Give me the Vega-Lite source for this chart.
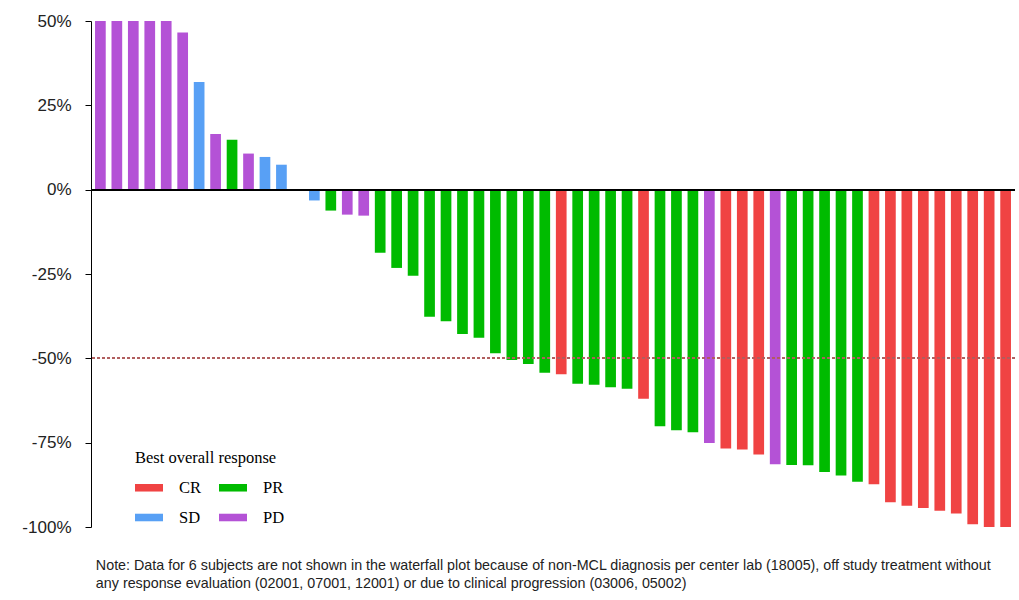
{
  "$schema": "https://vega.github.io/schema/vega-lite/v6.json",
  "autosize": {"type": "none"},
  "padding": {"left": 91, "top": 21, "right": 4, "bottom": 73},
  "width": 924,
  "height": 506,
  "background": "white",
  "config": {"view": {"stroke": null}},
  "title": {
    "text": ["Note: Data for 6 subjects are not shown in the waterfall plot because of non-MCL diagnosis per center lab (18005), off study treatment without", "any response evaluation (02001, 07001, 12001) or due to clinical progression (03006, 05002)"],
    "orient": "bottom",
    "anchor": "start",
    "font": "Liberation Sans",
    "fontSize": 14.3,
    "fontWeight": "normal",
    "color": "#222222",
    "lineHeight": 17.5,
    "offset": 24,
    "dx": 74
  },
  "data": {"values": [
    {"id": 1, "bor": "PD", "value": 50},
    {"id": 2, "bor": "PD", "value": 50},
    {"id": 3, "bor": "PD", "value": 50},
    {"id": 4, "bor": "PD", "value": 50},
    {"id": 5, "bor": "PD", "value": 50},
    {"id": 6, "bor": "PD", "value": 46.6},
    {"id": 7, "bor": "SD", "value": 31.9},
    {"id": 8, "bor": "PD", "value": 16.5},
    {"id": 9, "bor": "PR", "value": 14.8},
    {"id": 10, "bor": "PD", "value": 10.7},
    {"id": 11, "bor": "SD", "value": 9.7},
    {"id": 12, "bor": "SD", "value": 7.4},
    {"id": 13, "bor": "SD", "value": 0},
    {"id": 14, "bor": "SD", "value": -3.2},
    {"id": 15, "bor": "PR", "value": -6.2},
    {"id": 16, "bor": "PD", "value": -7.4},
    {"id": 17, "bor": "PD", "value": -7.7},
    {"id": 18, "bor": "PR", "value": -18.7},
    {"id": 19, "bor": "PR", "value": -23.2},
    {"id": 20, "bor": "PR", "value": -25.5},
    {"id": 21, "bor": "PR", "value": -37.7},
    {"id": 22, "bor": "PR", "value": -39.0},
    {"id": 23, "bor": "PR", "value": -42.8},
    {"id": 24, "bor": "PR", "value": -43.9},
    {"id": 25, "bor": "PR", "value": -48.5},
    {"id": 26, "bor": "PR", "value": -50.5},
    {"id": 27, "bor": "PR", "value": -51.7},
    {"id": 28, "bor": "PR", "value": -54.3},
    {"id": 29, "bor": "CR", "value": -54.7},
    {"id": 30, "bor": "PR", "value": -57.5},
    {"id": 31, "bor": "PR", "value": -57.8},
    {"id": 32, "bor": "PR", "value": -58.6},
    {"id": 33, "bor": "PR", "value": -59.0},
    {"id": 34, "bor": "CR", "value": -62.0},
    {"id": 35, "bor": "PR", "value": -70.1},
    {"id": 36, "bor": "PR", "value": -71.3},
    {"id": 37, "bor": "PR", "value": -71.9},
    {"id": 38, "bor": "PD", "value": -75.1},
    {"id": 39, "bor": "CR", "value": -76.7},
    {"id": 40, "bor": "CR", "value": -77.0},
    {"id": 41, "bor": "CR", "value": -78.5},
    {"id": 42, "bor": "PD", "value": -81.4},
    {"id": 43, "bor": "PR", "value": -81.6},
    {"id": 44, "bor": "PR", "value": -81.7},
    {"id": 45, "bor": "PR", "value": -83.7},
    {"id": 46, "bor": "PR", "value": -84.7},
    {"id": 47, "bor": "PR", "value": -86.6},
    {"id": 48, "bor": "CR", "value": -87.3},
    {"id": 49, "bor": "CR", "value": -92.7},
    {"id": 50, "bor": "CR", "value": -93.7},
    {"id": 51, "bor": "CR", "value": -94.4},
    {"id": 52, "bor": "CR", "value": -95.2},
    {"id": 53, "bor": "CR", "value": -96.0},
    {"id": 54, "bor": "CR", "value": -99.2},
    {"id": 55, "bor": "CR", "value": -100},
    {"id": 56, "bor": "CR", "value": -100}
  ]},
  "layer": [
    {
      "mark": {"type": "bar"},
      "encoding": {
        "x": {"field": "id", "type": "ordinal", "axis": null,
              "scale": {"paddingInner": 0.35, "paddingOuter": 0.245}},
        "y": {"field": "value", "type": "quantitative",
              "scale": {"domain": [-100, 50], "nice": false, "zero": false},
              "axis": {
                "title": null,
                "values": [-100, -75, -50, -25, 0, 25, 50],
                "labelExpr": "datum.value + '%'",
                "labelFont": "Liberation Sans",
                "labelFontSize": 17,
                "labelColor": "#222222",
                "labelPadding": 14,
                "labelFlush": false,
                "labelOverlap": false,
                "tickSize": 6,
                "tickColor": "#000000",
                "domainColor": "#000000",
                "grid": false
              }},
        "color": {"field": "bor", "type": "nominal",
                  "scale": {"domain": ["CR", "PR", "SD", "PD"], "range": ["#f04343", "#00bb00", "#58a0f5", "#b452d6"]},
                  "legend": {
                    "title": "Best overall response",
                    "orient": "none",
                    "legendX": 44,
                    "legendY": 429,
                    "direction": "horizontal",
                    "columns": 2,
                    "padding": 0,
                    "titleFont": "Liberation Serif",
                    "titleFontSize": 16.5,
                    "titleFontWeight": "normal",
                    "titleColor": "#000000",
                    "titlePadding": 7,
                    "labelFont": "Liberation Serif",
                    "labelFontSize": 16.5,
                    "labelColor": "#000000",
                    "labelOffset": 16,
                    "symbolType": "M-1,-0.27H1V0.27H-1Z",
                    "symbolSize": 784,
                    "symbolStrokeWidth": 0,
                    "columnPadding": 17,
                    "rowPadding": 7
                  }}
      }
    },
    {
      "mark": {"type": "rule", "color": "#b06060", "strokeDash": [3, 2], "strokeWidth": 1},
      "encoding": {"y": {"datum": -50}}
    },
    {
      "mark": {"type": "rule", "color": "#000000", "strokeWidth": 1.5},
      "encoding": {"y": {"datum": 0}}
    }
  ]
}
